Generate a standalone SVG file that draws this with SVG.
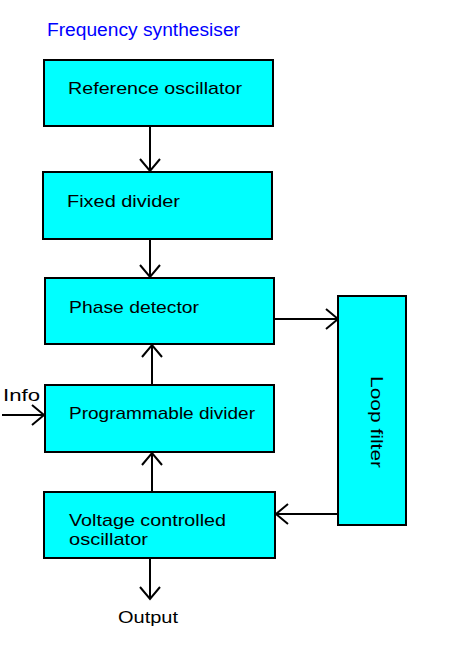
<svg xmlns="http://www.w3.org/2000/svg" width="475" height="653" viewBox="0 0 475 653">
<style>
.box{fill:#00ffff;stroke:#000;stroke-width:2}
.lbl{font-family:"Liberation Sans",Arial,sans-serif;font-size:17px;fill:#000}
.title{font-family:"Liberation Sans",Arial,sans-serif;font-size:18px;fill:#0000ff}
.conn{fill:none;stroke:#000;stroke-width:2}
</style>
<defs>
<marker id="arr" markerUnits="userSpaceOnUse" markerWidth="30" markerHeight="30" viewBox="-15 -15 30 30" refX="0" refY="0" orient="auto">
<path d="M-12,-10 L0,0 L-12,10" fill="none" stroke="#000" stroke-width="2"/>
</marker>
</defs>
<rect width="475" height="653" fill="#fff"/>
<text class="title" x="47" y="36" textLength="193" lengthAdjust="spacingAndGlyphs">Frequency synthesiser</text>
<g id="connectors">
<line class="conn" x1="150" y1="127" x2="150" y2="171" marker-end="url(#arr)"/>
<line class="conn" x1="150" y1="239" x2="150" y2="277" marker-end="url(#arr)"/>
<line class="conn" x1="274" y1="319" x2="338" y2="319" marker-end="url(#arr)"/>
<line class="conn" x1="152" y1="385" x2="152" y2="345" marker-end="url(#arr)"/>
<line class="conn" x1="2" y1="415" x2="44" y2="415" marker-end="url(#arr)"/>
<line class="conn" x1="152" y1="492" x2="152" y2="453" marker-end="url(#arr)"/>
<line class="conn" x1="339" y1="514" x2="276" y2="514" marker-end="url(#arr)"/>
<line class="conn" x1="150" y1="558" x2="150" y2="599" marker-end="url(#arr)"/>
</g>
<g id="ref-osc">
<rect class="box" x="44" y="60" width="229" height="66"/>
<text class="lbl" x="68" y="94" textLength="174" lengthAdjust="spacingAndGlyphs">Reference oscillator</text>
</g>
<g id="fixed-div">
<rect class="box" x="43" y="172" width="229" height="67"/>
<text class="lbl" x="67" y="207" textLength="113" lengthAdjust="spacingAndGlyphs">Fixed divider</text>
</g>
<g id="phase-det">
<rect class="box" x="45" y="278" width="229" height="66"/>
<text class="lbl" x="69" y="313" textLength="130" lengthAdjust="spacingAndGlyphs">Phase detector</text>
</g>
<g id="prog-div">
<rect class="box" x="45" y="385" width="229" height="67"/>
<text class="lbl" x="69" y="419" textLength="186" lengthAdjust="spacingAndGlyphs">Programmable divider</text>
</g>
<g id="vco">
<rect class="box" x="44" y="492" width="231" height="66"/>
<text class="lbl" x="69" y="526" textLength="157" lengthAdjust="spacingAndGlyphs">Voltage controlled</text>
<text class="lbl" x="69" y="545" textLength="79" lengthAdjust="spacingAndGlyphs">oscillator</text>
</g>
<g id="loop-filter">
<rect class="box" x="338" y="296" width="68" height="229"/>
<text class="lbl" transform="translate(371,422) rotate(90)" x="0" y="0" text-anchor="middle" textLength="92" lengthAdjust="spacingAndGlyphs">Loop filter</text>
</g>
<g id="info">
<text class="lbl" x="3" y="401" textLength="37" lengthAdjust="spacingAndGlyphs">Info</text>
</g>
<g id="output">
<text class="lbl" x="118" y="623" textLength="60" lengthAdjust="spacingAndGlyphs">Output</text>
</g>
</svg>
